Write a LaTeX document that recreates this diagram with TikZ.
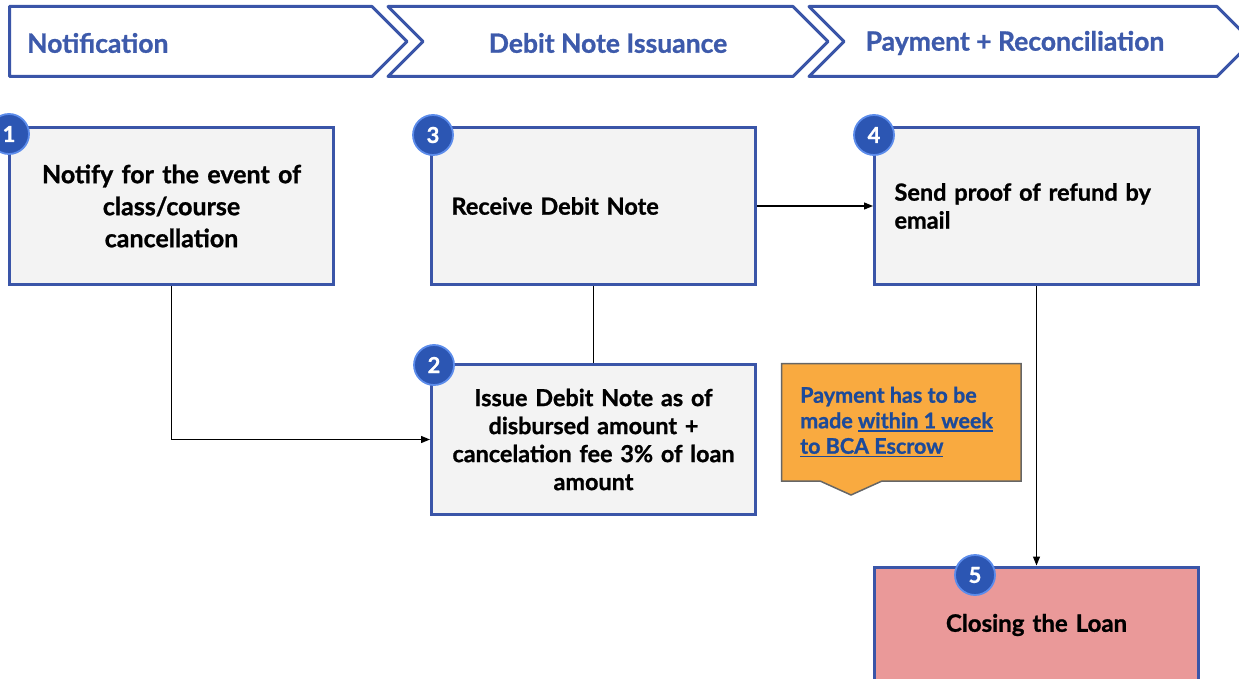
\documentclass[tikz,border=0pt]{standalone}
\usepackage{fontspec}
\setmainfont{Lato}[BoldFeatures={FakeBold=1}]
\usetikzlibrary{arrows.meta}
\definecolor{bordblue}{HTML}{3A55A8}
\definecolor{headblue}{HTML}{3D5AAB}
\definecolor{badgeblue}{HTML}{2C56B3}
\definecolor{ringblue}{HTML}{5C8CEB}
\definecolor{boxgray}{HTML}{F3F3F3}
\definecolor{pinkbox}{HTML}{EA9999}
\definecolor{calloutor}{HTML}{F9AA40}
\definecolor{callouttxt}{HTML}{1C4A9A}
\newcommand\myul[1]{\setbox0\hbox{#1}\rlap{\rule[-3.5pt]{\wd0}{1.6pt}}\box0}
\tikzset{
  chev/.style={draw=bordblue, line width=3pt, fill=white, line join=round},
  headtxt/.style={text=headblue, font=\fontsize{26.5}{30}\selectfont\bfseries, inner sep=0pt},
  stepbox/.style={draw=bordblue, line width=3pt, fill=boxgray, minimum width=324pt, minimum height=157pt},
  ctxt/.style={align=center, text width=314pt, inner xsep=5pt},
  ltxt/.style={align=left, text width=284pt, inner xsep=20pt},
  badge/.style={circle, fill=badgeblue, draw=ringblue, line width=1.8pt, minimum size=40pt, inner sep=0pt, text=white, font=\fontsize{22}{24}\selectfont\bfseries},
  conn/.style={line width=1.2pt, -{Triangle[length=9pt,width=7pt]}},
  plain/.style={line width=1.2pt}
}
\begin{document}
\begin{tikzpicture}[x=1pt,y=-1pt]
\useasboundingbox (0,0) rectangle (1239,679);
\clip (0,0) rectangle (1239,679);
% chevrons
\draw[chev] (9.5,6.5) -- (372,6.5) -- (407,41.5) -- (372,76.5) -- (9.5,76.5) -- cycle;
\draw[chev] (388,6.5) -- (793,6.5) -- (828,41.5) -- (793,76.5) -- (388,76.5) -- (423,41.5) -- cycle;
\draw[chev] (809,6.5) -- (1217,6.5) -- (1252,41.5) -- (1217,76.5) -- (809,76.5) -- (844,41.5) -- cycle;
\node[headtxt, anchor=west] (h1) at (27,43) {Notification};
\node[headtxt] (h2) at (608,43) {Debit Note Issuance};
\node[headtxt] (h3) at (1015,43) {Payment + Reconciliation};
% boxes
\node[stepbox, ctxt, font=\fontsize{25}{32}\selectfont\bfseries] (b1) at (171.5,206) {Notify for the event of\\class/course\\cancellation};
\node[stepbox, ltxt, font=\fontsize{23.5}{28}\selectfont\bfseries] (b3) at (593.5,206) {Receive Debit Note};
\node[stepbox, ltxt, font=\fontsize{23.5}{28}\selectfont\bfseries] (b4) at (1036.5,206) {Send proof of refund by\\email};
\node[stepbox, ctxt, minimum height=150pt, font=\fontsize{23.4}{28}\selectfont\bfseries] (b2) at (593.5,439.5) {Issue Debit Note as of\\disbursed amount +\\cancelation fee 3\% of loan\\amount};
\node[stepbox, fill=pinkbox, minimum height=116pt, ctxt, font=\fontsize{24}{28}\selectfont\bfseries] (b5) at (1036.5,625) {Closing the Loan};
% callout
\draw[draw=black!60, line width=1.5pt, fill=calloutor] (781.5,363.5) -- (1021,363.5) -- (1021,481) -- (882,481) -- (851,495) -- (820,481) -- (781.5,481) -- cycle;
\node[anchor=west, align=left, inner sep=0pt, text=callouttxt, font=\fontsize{21.5}{25.5}\selectfont\bfseries] (note) at (800,422) {Payment has to be\\made \myul{within 1 week}\\\myul{to BCA Escrow}};
% connectors
\coordinate (k1) at (b1.south |- b2.west);
\draw[conn] (b1.south) -- (k1) -- (b2.west);
\draw[plain] (b3.south) -- (b2.north);
\draw[conn] (b3.east) -- (b4.west);
\draw[conn] (b4.south) -- (b4.south |- b5.north);
% badges
\node[badge] (n1) at (9,134) {1};
\node[badge] (n3) at (433,135) {3};
\node[badge] (n4) at (874,135) {4};
\node[badge] (n2) at (434,365) {2};
\node[badge] (n5) at (975,575) {5};
\end{tikzpicture}
\end{document}
